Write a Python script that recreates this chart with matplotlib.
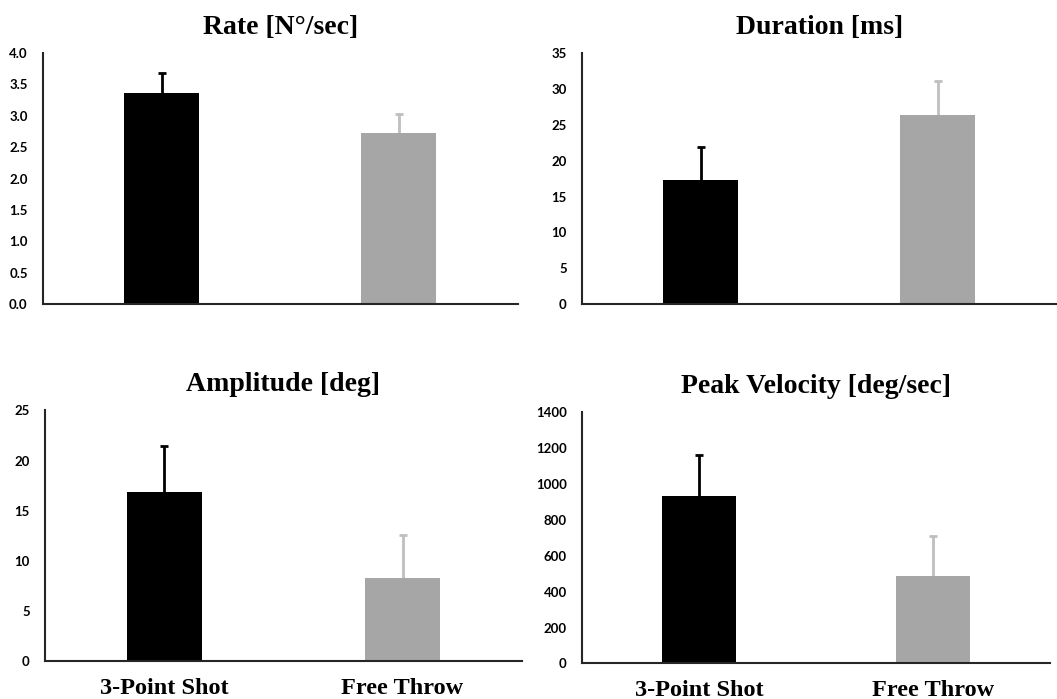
import matplotlib.pyplot as plt

groups = ['3-Point Shot', 'Free Throw']
titles = ['Rate [N°/sec]', 'Duration [ms]', 'Amplitude [deg]', 'Peak Velocity [deg/sec]']

rate_mean = [3.36, 2.72]
rate_sd = [0.32, 0.31]
duration_mean = [17.3, 26.4]
duration_sd = [4.6, 4.7]
amplitude_mean = [16.9, 8.27]
amplitude_sd = [4.5, 4.35]
velocity_mean = [931, 485]
velocity_sd = [229, 223]

rate_ticks = [0.0, 0.5, 1.0, 1.5, 2.0, 2.5, 3.0, 3.5, 4.0]
duration_ticks = [0, 5, 10, 15, 20, 25, 30, 35]
amplitude_ticks = [0, 5, 10, 15, 20, 25]
velocity_ticks = [0, 200, 400, 600, 800, 1000, 1200, 1400]

bar_colors = ['#000000', '#a6a6a6']
err_colors = ['#000000', '#bfbfbf']

fig = plt.figure(figsize=(10.57, 6.99), dpi=100)

# axes boxes in figure fractions (left, bottom, width, height)
boxes = [
    (0.0407, 0.565, 0.449, 0.359),
    (0.5506, 0.565, 0.449, 0.359),
    (0.0426, 0.054, 0.451, 0.359),
    (0.5506, 0.051, 0.443, 0.359),
]
panels = [
    (rate_mean, rate_sd, rate_ticks, '{:.1f}'),
    (duration_mean, duration_sd, duration_ticks, '{:d}'),
    (amplitude_mean, amplitude_sd, amplitude_ticks, '{:d}'),
    (velocity_mean, velocity_sd, velocity_ticks, '{:d}'),
]

for i, (box, (means, sds, ticks, fmt)) in enumerate(zip(boxes, panels)):
    ax = fig.add_axes(box)
    x = list(range(len(groups)))
    for j in x:
        _, caps, _ = ax.errorbar(j, means[j], yerr=[[0], [sds[j]]], color=err_colors[j],
                                 elinewidth=2, capsize=3, capthick=2, zorder=1)
        # only keep the upper cap
        for c in caps:
            if c.get_ydata()[0] <= means[j]:
                c.set_visible(False)
    ax.bar(x, means, width=0.316, color=bar_colors, zorder=2)
    ax.set_xlim(-0.5, 1.5)
    ax.set_ylim(ticks[0], ticks[-1])
    ax.set_yticks(ticks)
    ax.set_yticklabels([fmt.format(t) for t in ticks], fontfamily='Lato',
                       fontweight='bold', fontsize=9.5)
    ax.tick_params(axis='both', length=0, pad=11)
    for s in ['top', 'right']:
        ax.spines[s].set_visible(False)
    for s in ['left', 'bottom']:
        ax.spines[s].set_color('#262626')
        ax.spines[s].set_linewidth(1.5)
    ax.set_title(titles[i], fontfamily='Liberation Serif', fontweight='bold',
                 fontsize=20, pad=14)
    if i >= 2:
        ax.set_xticks(x)
        ax.set_xticklabels(groups, fontfamily='Liberation Serif',
                           fontweight='bold', fontsize=17.5)
        ax.tick_params(axis='x', pad=12)
    else:
        ax.set_xticks([])

fig.savefig('out.png', dpi=100)
